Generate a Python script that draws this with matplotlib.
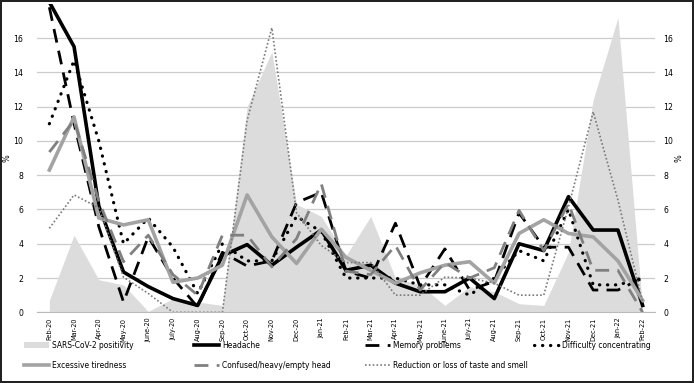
import matplotlib
matplotlib.use('Agg')
import matplotlib.pyplot as plt
import numpy as np

months = ['Feb-20', 'Mar-20', 'Apr-20', 'May-20', 'June-20', 'July-20', 'Aug-20', 'Sep-20',
          'Oct-20', 'Nov-20', 'Dec-20', 'Jan-21', 'Feb-21', 'Mar-21', 'Apr-21', 'May-21',
          'June-21', 'July-21', 'Aug-21', 'Sep-21', 'Oct-21', 'Nov-21', 'Dec-21', 'Jan-22', 'Feb-22']

positivity = [0.7, 4.5, 1.9, 1.6, 0.05, 0.8, 0.6, 0.4, 12.0, 15.2, 6.3, 5.6, 3.3, 5.6, 2.0, 1.6,
              0.4, 1.5, 1.2, 0.5, 0.4, 3.5, 12.4, 17.2, 0.2]
headache = [18.1, 15.5, 6.2, 2.35, 1.5, 0.8, 0.4, 3.3, 3.95, 2.75, 3.8, 4.8, 2.45, 2.75, 1.7, 1.2,
            1.2, 2.0, 0.8, 4.0, 3.6, 6.75, 4.8, 4.8, 0.4]
memory = [17.8, 11.0, 5.0, 0.6, 4.4, 2.0, 0.3, 3.5, 2.7, 3.0, 6.4, 7.0, 2.4, 2.0, 5.2, 1.5,
          3.7, 1.3, 1.8, 5.8, 3.8, 3.8, 1.3, 1.3, 2.0]
difficulty = [11.0, 14.7, 10.0, 4.0, 5.5, 3.8, 1.1, 4.0, 3.0, 3.0, 5.6, 4.7, 2.0, 2.0, 2.0, 1.6,
              1.6, 1.0, 2.0, 3.6, 3.0, 6.0, 1.6, 1.6, 2.0]
tiredness = [8.3, 11.4, 5.5, 5.1, 5.4, 1.75, 2.0, 2.75, 6.85, 4.4, 2.85, 4.85, 3.2, 2.45, 1.7, 2.3,
             2.75, 2.95, 1.7, 4.6, 5.4, 4.6, 4.4, 3.0, 0.7]
confused = [9.35, 11.2, 6.5, 2.95, 4.5, 2.2, 1.0, 4.5, 4.5, 2.65, 4.3, 7.5, 2.4, 2.2, 3.9, 1.3,
            2.9, 2.0, 2.6, 5.95, 3.6, 6.35, 2.45, 2.45, 0.0]
taste = [4.9, 6.85, 6.1, 2.05, 1.1, 0.0, 0.0, 0.0, 11.2, 16.6, 5.8, 3.9, 2.9, 2.9, 1.0, 1.0,
         2.05, 2.0, 1.7, 1.0, 1.0, 6.15, 11.7, 6.55, 0.6]

plt.rcParams['font.family'] = ['DejaVu Sans']
plt.rcParams['font.stretch'] = 'condensed'

x = np.arange(len(months))
W, H = 694, 383

fig = plt.figure(figsize=(6.94, 3.83), dpi=100, edgecolor='#222222', linewidth=1.5)
ax = fig.add_axes([0.0533, 0.1846, 0.8905, 0.8054])

ax.fill_between(x, positivity, color='#dcdcdc', lw=0, label='SARS-CoV-2 positivity')
ax.plot(x, headache, color='black', lw=2.6, label='Headache')
ax.plot(x, memory, color='black', lw=2.0, dashes=(5, 3), label='Memory problems')
ax.plot(x, difficulty, color='black', lw=2.3, linestyle=(0, (0.1, 2.4)), dash_capstyle='round',
        label='Difficulty concentrating')
ax.plot(x, tiredness, color='#a3a3a3', lw=2.6, label='Excessive tiredness')
ax.plot(x, confused, color='#808080', lw=2.0, dashes=(5, 3), label='Confused/heavy/empty head')
ax.plot(x, taste, color='#7a7a7a', lw=1.2, linestyle=(0, (1, 1.3)),
        label='Reduction or loss of taste and smell')

ax.set_xlim(-0.5, 24.5)
ax.set_ylim(0, 18)
ax.set_yticks(np.arange(0, 17, 2))
ax.set_xticks(x)
ax.set_xticklabels(months, rotation=90, fontsize=5.2)
ax.tick_params(axis='y', length=0, labelsize=6.2, pad=10)
ax.tick_params(axis='x', length=0, pad=4)
ax.grid(axis='y', color='#cccccc', lw=0.9)
ax.set_axisbelow(True)
for s in ['top', 'right', 'left']:
    ax.spines[s].set_visible(False)
ax.spines['bottom'].set_color('#bbbbbb')
ax.set_ylabel('%', fontsize=6.5, labelpad=1)

ax2 = ax.twinx()
ax2.set_ylim(ax.get_ylim())
ax2.set_yticks(np.arange(0, 17, 2))
ax2.tick_params(axis='y', length=0, labelsize=6.2, pad=6)
for s in ax2.spines.values():
    s.set_visible(False)
ax2.set_ylabel('%', fontsize=6.5, labelpad=1)

# legend: four columns placed by hand, like the original
handles, labels = ax.get_legend_handles_labels()
columns = [[0, 4], [1, 5], [2, 6], [3]]
col_x = [24, 194, 365, 534]
for idx, cx in zip(columns, col_x):
    fig.legend([handles[i] for i in idx], [labels[i] for i in idx], loc='upper left',
               bbox_to_anchor=(cx / W, (H - 341) / H), frameon=False, fontsize=6,
               handlelength=3.0, handletextpad=0.4, labelspacing=1.3,
               borderpad=0, borderaxespad=0)

fig.savefig('out.png', dpi=100)
